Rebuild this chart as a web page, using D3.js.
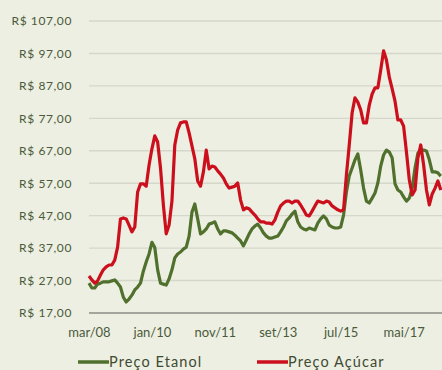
<!DOCTYPE html>
<html>
<head>
<meta charset="utf-8">
<script src="https://cdn.jsdelivr.net/npm/d3@7"></script>
<style>
  html, body { margin: 0; padding: 0; background: #EDEFE2; }
  svg { display: block; }
</style>
</head>
<body>
<svg id="chart" width="442" height="370"></svg>
<script>
// Monthly prices (R$), starting mar/08
const startMonth = 2;   // March (0-based)
const startYear = 2008;
const monthNames = ["jan","fev","mar","abr","mai","jun","jul","ago","set","out","nov","dez"];

const precoEtanol = [
  26.2, 24.7, 24.7, 25.9, 26.2, 26.6, 26.6, 26.6, 26.9, 27.2,
  26.2, 25.0, 21.9, 20.4, 21.3, 22.5, 24.1, 25.0, 26.2, 29.9,
  32.7, 35.2, 38.8, 37.2, 30.3, 26.2, 25.9, 25.6, 27.5, 30.3,
  34.0, 35.2, 35.8, 36.7, 37.3, 40.7, 48.1, 50.6, 46.0, 41.4,
  42.0, 42.9, 44.4, 44.7, 45.1, 42.9, 41.4, 42.3, 42.3, 42.0,
  41.7, 41.0, 40.1, 39.2, 37.7, 39.5, 41.4, 42.9, 43.8, 44.4,
  43.2, 41.7, 40.7, 40.1, 40.1, 40.4, 40.7, 42.0, 43.5, 45.4,
  46.3, 47.5, 48.4, 45.1, 43.5, 42.9, 42.6, 43.2, 42.9, 42.6,
  44.7, 46.0, 46.9, 46.0, 44.1, 43.5, 43.2, 43.2, 43.5, 47.2,
  54.3, 59.2, 61.7, 64.2, 66.0, 61.1, 55.5, 51.5, 50.9, 52.4,
  54.0, 57.1, 62.3, 65.7, 67.2, 66.6, 64.8, 56.8, 54.9, 54.3,
  52.8, 51.5, 52.4, 55.5, 61.7, 66.3, 67.2, 67.2, 66.9, 64.2,
  60.5, 60.5, 60.2, 59.2
];

const precoAcucar = [
  28.4, 27.2, 26.2, 26.9, 28.7, 30.3, 31.2, 31.8, 31.8, 33.3,
  37.3, 46.0, 46.3, 46.0, 44.1, 42.0, 43.5, 54.3, 56.8, 56.8,
  56.1, 62.6, 67.6, 71.6, 69.7, 61.7, 50.3, 41.4, 44.1, 51.5,
  68.8, 73.4, 75.6, 75.9, 75.9, 72.5, 68.5, 64.5, 57.7, 56.1,
  60.5, 67.2, 61.4, 62.3, 62.0, 60.8, 59.8, 58.6, 56.8, 55.5,
  55.8, 56.1, 57.1, 51.8, 48.8, 49.4, 49.1, 48.1, 47.2, 46.0,
  45.1, 45.1, 44.7, 44.7, 44.4, 45.7, 48.1, 50.0, 50.9, 51.5,
  51.5, 50.9, 51.5, 51.5, 50.3, 48.8, 47.2, 46.9, 48.4, 50.0,
  51.5, 51.2, 50.9, 51.5, 51.2, 50.0, 49.4, 48.8, 48.4, 48.8,
  59.5, 68.8, 78.7, 83.3, 82.0, 79.6, 75.6, 75.6, 81.1, 84.5,
  86.4, 86.4, 91.9, 97.8, 95.0, 89.7, 86.1, 82.3, 76.5, 76.5,
  74.6, 66.6, 58.0, 53.4, 54.9, 64.8, 68.8, 62.6, 54.9, 50.3,
  53.7, 55.5, 57.7, 54.9
];

const yTicks = [17, 27, 37, 47, 57, 67, 77, 87, 97, 107];
const xTickLabels = ["mar/08", "jan/10", "nov/11", "set/13", "jul/15", "mai/17"];

const seriesNames = ["Preço Etanol", "Preço Açúcar"];
const seriesColors = ["#50702D", "#CC0F1C"];

// Month category labels ("mar/08", "abr/08", ...)
const categories = precoEtanol.map((_, i) => {
  const m = startMonth + i;
  const yy = (startYear + Math.floor(m / 12)) % 100;
  return monthNames[m % 12] + "/" + String(yy).padStart(2, "0");
});

const svg = d3.select("#chart");
const W = 442, H = 370;
const plot = { left: 89, top: 21, bottom: 313 };
const step = 2.86;
const font = "Lato, 'Open Sans', sans-serif";

const x = d3.scalePoint()
  .domain(categories)
  .range([plot.left, plot.left + step * (categories.length - 1)]);

const y = d3.scaleLinear()
  .domain([17, 107])
  .range([plot.bottom, plot.top]);

svg.append("rect").attr("width", W).attr("height", H).attr("fill", "#EDEFE2");

// Horizontal gridlines
svg.append("g")
  .selectAll("line")
  .data(yTicks.filter(t => t !== 17))
  .join("line")
  .attr("x1", plot.left).attr("x2", W)
  .attr("y1", d => y(d)).attr("y2", d => y(d))
  .attr("stroke", "#D5D7CB")
  .attr("stroke-width", 1.4);

// Y axis labels
const fmt = v => "R$ " + v.toFixed(2).replace(".", ",");
const yAxis = d3.axisLeft(y).tickValues(yTicks).tickFormat(fmt).tickSize(0).tickPadding(0);
const yg = svg.append("g").attr("transform", "translate(72,0)").call(yAxis);
yg.select(".domain").remove();
yg.selectAll("text")
  .attr("font-family", font)
  .attr("font-size", 12)
  .attr("letter-spacing", "0.6px")
  .attr("fill", "#4A5A3A");

// X axis baseline
svg.append("line")
  .attr("x1", plot.left).attr("x2", W)
  .attr("y1", plot.bottom).attr("y2", plot.bottom)
  .attr("stroke", "#A4A69E")
  .attr("stroke-width", 2);

// X axis labels
const xAxis = d3.axisBottom(x).tickValues(xTickLabels).tickSize(0).tickPadding(0);
const xg = svg.append("g").attr("transform", `translate(0,${plot.bottom + 15})`).call(xAxis);
xg.select(".domain").remove();
xg.selectAll("text")
  .attr("font-family", font)
  .attr("font-size", 13)
  .attr("fill", "#4A5A3A");

// Lines
const line = d3.line()
  .x((d, i) => x(categories[i]))
  .y(d => y(d));

[precoEtanol, precoAcucar].forEach((vals, k) => {
  svg.append("path")
    .datum(vals)
    .attr("d", line)
    .attr("fill", "none")
    .attr("stroke", seriesColors[k])
    .attr("stroke-width", 3.2)
    .attr("stroke-linejoin", "round");
});

// Legend
const legendX = [78, 257];
const legend = svg.append("g")
  .selectAll("g")
  .data(seriesNames)
  .join("g")
  .attr("transform", (d, i) => `translate(${legendX[i]},362)`);
legend.append("line")
  .attr("x1", 0).attr("x2", 31).attr("y1", 0).attr("y2", 0)
  .attr("stroke", (d, i) => seriesColors[i])
  .attr("stroke-width", 3.5);
legend.append("text")
  .attr("x", 31).attr("y", 0).attr("dy", "0.36em")
  .attr("font-family", font)
  .attr("font-size", 14.5)
  .attr("letter-spacing", "1.1px")
  .attr("fill", "#3E4A32")
  .text(d => d);
</script>
</body>
</html>
